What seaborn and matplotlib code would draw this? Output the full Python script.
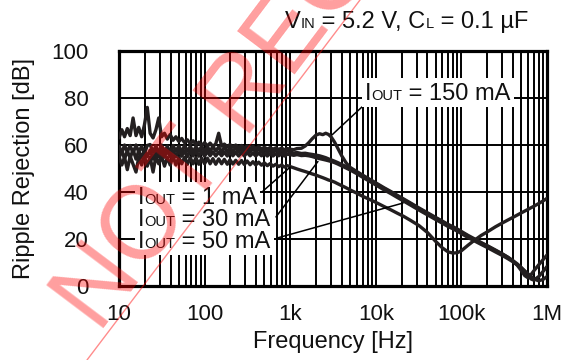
import numpy as np
import pandas as pd
import seaborn as sns
import matplotlib
matplotlib.use("Agg")
import matplotlib.pyplot as plt
from matplotlib.ticker import LogLocator, FixedLocator, FixedFormatter, NullFormatter
from matplotlib.patches import Rectangle
from matplotlib.lines import Line2D
from matplotlib.font_manager import FontProperties, findfont, get_font

W, H, DPI = 563, 360, 100

# ---------------- data ----------------
freq_hz = [10, 10.8, 11.6, 12.5, 13.5, 14.6, 15.8, 17, 18.4, 19.8,
           21.4, 23.1, 25, 27, 29.1, 31.4, 34, 36.7, 39.6, 42.8,
           46.2, 50, 54, 58.3, 63, 68, 73.4, 79.3, 85.6, 92.5,
           100, 108, 116, 125, 135, 146, 158, 170, 184, 198,
           214, 231, 250, 270, 291, 314, 340, 367, 396, 428,
           462, 500, 540, 583, 630, 680, 734, 793, 856, 925,
           1000, 1100, 1200, 1350, 1500, 1650, 1800, 2000, 2200, 2400,
           2600, 2800, 3000, 3300, 3600, 4000, 4500, 5000, 6000, 7000,
           8500, 10000, 12500, 15000, 18000, 21000, 25000, 32000, 40000, 50000,
           60000, 70000, 80000, 90000, 100000, 120000, 140000, 170000, 200000, 250000,
           300000, 350000, 400000, 450000, 500000, 550000, 600000, 650000, 700000, 800000,
           900000, 1000000]

rr_1ma = [55, 51.5, 54.8, 49.5, 55.2, 51.8, 48.5, 54.8, 51.5, 55.5,
          51, 54.8, 48.5, 55.2, 52, 55.2, 51, 54.8, 51.5, 55.2,
          51.5, 54.8, 52, 54.8, 51.8, 54.6, 52, 54.6, 51.8, 54.4,
          52, 54.4, 52, 54.2, 51.8, 54.1, 52, 53.9, 51.8, 53.7,
          51.9, 53.5, 51.8, 53.4, 51.7, 53.2, 51.6, 52.9, 51.5, 52.7,
          51.4, 52.4, 51.2, 52.1, 51, 51.8, 50.8, 51.5, 50.6, 51.2,
          50.8, 50.3, 49.8, 49.2, 48.7, 48.2, 47.7, 47.2, 46.6, 46.1,
          45.6, 45.1, 44.8, 44.2, 43.5, 42.7, 41.8, 40.9, 39.5, 38.2,
          36.8, 35.6, 33.8, 32.4, 30.9, 29.7, 28.1, 25.7, 22.8, 19,
          16.2, 14.5, 14, 14.2, 15, 17.4, 19.3, 21.5, 23, 25.2,
          26.8, 28.1, 29.2, 30.2, 31.1, 31.9, 32.6, 33.3, 33.9, 35.1,
          36.2, 37.3]

rr_30ma = [54.5, 57.8, 54, 57.5, 54.5, 58, 54, 57.5, 54.5, 58,
           55, 57.8, 54, 57.8, 55, 57.5, 54.8, 57.8, 55, 57.5,
           55, 57.6, 55.2, 57.5, 55, 57.4, 55.3, 57.5, 55.2, 57.2,
           55.2, 57.3, 55.4, 57.1, 55.3, 57, 55.4, 57, 55.3, 56.9,
           55.4, 56.9, 55.3, 56.8, 55.3, 56.8, 55.4, 56.6, 55.3, 56.6,
           55.4, 56.5, 55.3, 56.4, 55.3, 56.3, 55.4, 56.2, 55.3, 56.1,
           55.9, 55.6, 55.9, 55.5, 55.6, 55.4, 55.1, 54.6, 54.2, 53.9,
           53.6, 53.3, 53, 52.5, 51.9, 51.1, 50.2, 49.4, 47.8, 46.3,
           44.5, 43, 40.9, 39.3, 37.6, 36.2, 34.6, 32.3, 30.3, 28.3,
           26.7, 25.3, 24.3, 23.3, 22.3, 20.6, 19.3, 17.7, 16.4, 14.5,
           13, 11.6, 10.3, 9, 7.7, 6.4, 5.2, 4.1, 3, 2.2,
           2.8, 4]

rr_50ma = [59.5, 56.5, 60, 57, 59.8, 56.5, 60, 57, 59.5, 56.2,
           59.8, 60.2, 57, 59.6, 56.5, 60, 57.2, 59.5, 56.8, 59.8,
           57.3, 59.6, 57, 59.8, 57.3, 59.5, 57, 59.4, 57.3, 59.6,
           57, 59.3, 57.2, 59.5, 57.4, 59.2, 57, 59.1, 57.2, 58.9,
           57.1, 58.9, 57.1, 58.7, 57, 58.7, 57, 58.5, 56.9, 58.4,
           56.9, 58.3, 56.8, 58.1, 56.8, 57.9, 56.7, 57.8, 56.6, 57.5,
           57, 56.6, 56.8, 56.4, 56.5, 56.2, 56, 55.7, 55.4, 55,
           54.6, 54.1, 53.7, 53.1, 52.5, 51.7, 50.8, 50, 48.4, 46.9,
           45.1, 43.6, 41.5, 39.9, 38.2, 36.8, 35.2, 32.9, 30.9, 28.9,
           27.3, 25.9, 24.9, 23.9, 22.9, 21.2, 19.9, 18.3, 17, 15.1,
           13.6, 12.2, 10.8, 9.4, 7.9, 6.3, 4.6, 3, 2.5, 4,
           6.2, 8.3]

rr_150ma = [63, 66.5, 63.5, 67, 64, 71.5, 64, 67.5, 63.5, 68.5,
            76, 65, 63, 66.5, 71.5, 63.5, 65, 62.5, 64.5, 62,
            63.5, 61.5, 62.8, 61, 62.2, 60.5, 61.8, 60.2, 61.2, 59.8,
            61, 59.6, 60.8, 59.4, 60.5, 65, 59.5, 60.4, 59.2, 60.2,
            59, 60, 58.8, 59.8, 58.7, 59.6, 58.6, 59.4, 58.5, 59.2,
            58.4, 59, 58.3, 58.9, 58.2, 58.8, 58.1, 58.7, 58, 58.5,
            58.2, 58, 58.5, 58.6, 59.6, 61, 62.6, 64.2, 64.8, 64.4,
            65, 64.5, 63.5, 61.2, 58.6, 55.4, 52.4, 50.5, 48.7, 47.2,
            45.4, 43.9, 41.8, 40.2, 38.5, 37.1, 35.5, 33.2, 31.2, 29.2,
            27.6, 26.2, 25.2, 24.2, 23.2, 21.5, 20.2, 18.5, 17.2, 15.3,
            13.7, 12.2, 10.6, 8.8, 6.6, 4.4, 3.5, 4.8, 6.4, 9,
            11.2, 13.2]

series = {"1 mA": rr_1ma, "30 mA": rr_30ma, "50 mA": rr_50ma, "150 mA": rr_150ma}

x_ticks = [10, 100, 1e3, 1e4, 1e5, 1e6]
x_ticklabels = ["10", "100", "1k", "10k", "100k", "1M"]
y_ticks = [0, 20, 40, 60, 80, 100]

# leader lines (Hz, dB): start -> end
leader_1ma = ([481, 1000], [40.4, 50.6])
leader_30ma = ([682, 2110], [29.4, 53.0])
leader_50ma = ([701, 20800], [20.4, 35.3])
leader_150ma = ([6900, 3080], [76.2, 64.3])

LINE = "#231f20"
TXT = "#111111"

# ---------------- style ----------------
sns.set_theme(style="white")
plt.rcParams["font.family"] = ["Liberation Sans", "DejaVu Sans"]

fig = plt.figure(figsize=(W / DPI, H / DPI), dpi=DPI)
L, R, T, B = 119, 547, 51, 286
ax = fig.add_axes([L / W, 1 - B / H, (R - L) / W, (B - T) / H])

df = pd.concat([pd.DataFrame({"f": freq_hz, "rr": v, "iout": k}) for k, v in series.items()])
for k in series:
    sub = df[df["iout"] == k]
    sns.lineplot(data=sub, x="f", y="rr", ax=ax, color=LINE, lw=2.4,
                 estimator=None, sort=False, legend=False, zorder=3)

ax.set_xscale("log")
ax.set_xlim(10, 1e6)
ax.set_ylim(0, 100)
ax.xaxis.set_major_locator(FixedLocator(x_ticks))
ax.xaxis.set_major_formatter(FixedFormatter(x_ticklabels))
ax.xaxis.set_minor_locator(LogLocator(base=10, subs=np.arange(2, 10)))
ax.xaxis.set_minor_formatter(NullFormatter())
ax.yaxis.set_major_locator(FixedLocator(y_ticks))
ax.set_axisbelow(True)
ax.grid(which="major", axis="both", color="black", lw=1.4)
ax.grid(which="minor", axis="x", color="black", lw=1.4)
ax.tick_params(which="both", length=0)
ax.tick_params(axis="x", pad=13, labelsize=16, labelcolor=TXT)
ax.tick_params(axis="y", pad=22, labelsize=16, labelcolor=TXT)
for s in ax.spines.values():
    s.set_color("black")
    s.set_linewidth(2.3)

ax.set_xlabel("Frequency [Hz]", fontsize=17, color=TXT)
ax.set_ylabel("Ripple Rejection [dB]", fontsize=17, color=TXT)
ax.xaxis.set_label_coords(0.5, -(331 - B) / (B - T))
ax.yaxis.set_label_coords((35 - L) / (R - L), 0.5)

for lx, ly in (leader_1ma, leader_30ma, leader_50ma, leader_150ma):
    ax.plot(lx, ly, color="black", lw=1.1, zorder=4)

# ---------------- rich text helpers ----------------
FONT_FILE = findfont(FontProperties(family="Liberation Sans"))
try:
    from matplotlib.ft2font import Kerning
    KMODE = Kerning.DEFAULT
except Exception:
    try:
        from matplotlib.ft2font import KERNING_DEFAULT as KMODE
    except Exception:
        KMODE = 0


def advance(s, size):
    ft = get_font(FONT_FILE)
    ft.set_size(size, DPI)
    total, prev = 0.0, None
    for c in s:
        gi = ft.get_char_index(ord(c))
        if prev is not None:
            try:
                total += ft.get_kerning(prev, gi, KMODE) / 64.0
            except Exception:
                pass
        total += ft.load_char(ord(c)).linearHoriAdvance / 65536.0
        prev = gi
    return total


def fpos(x, y):
    return x / W, 1 - y / H


def rich(x, y, pieces, box=False):
    x0 = x
    for s, size in pieces:
        fx, fy = fpos(x, y)
        fig.text(fx, fy, s, fontsize=size, ha="left", va="baseline", color=TXT, zorder=6)
        x += advance(s, size)
    if box:
        big = pieces[0][1] * DPI / 72
        top = y - 0.95 * big
        bot = y + 0.3 * big
        fx, fy = fpos(x0 - 3, bot)
        fig.add_artist(Rectangle((fx, fy), (x - x0 + 6) / W, (bot - top) / H,
                                 transform=fig.transFigure, facecolor="white",
                                 edgecolor="none", zorder=5))
    return x


BIG, SMALL = 17, 10.5
rich(285, 28, [("V", BIG), ("IN", SMALL), (" = 5.2 V, C", BIG), ("L", SMALL), (" = 0.1 µF", BIG)])
rich(138, 204, [("I", BIG), ("OUT", SMALL), (" = 1 mA", BIG)], box=True)
rich(138, 226, [("I", BIG), ("OUT", SMALL), (" = 30 mA", BIG)], box=True)
rich(138, 248, [("I", BIG), ("OUT", SMALL), (" = 50 mA", BIG)], box=True)
rich(365, 100, [("I", BIG), ("OUT", SMALL), (" = 150 mA", BIG)], box=True)

# ---------------- watermark ----------------
wx, wy = fpos(99, 334)
fig.text(wx, wy, "NOT RECOMMENDED", fontsize=74, rotation=53,
         rotation_mode="anchor", ha="left", va="baseline", color="red", alpha=0.38, zorder=10)
p0, p1 = fpos(87, 360), fpos(360, 0)
fig.add_artist(Line2D([p0[0], p1[0]], [p0[1], p1[1]], transform=fig.transFigure,
                      color="red", alpha=0.45, lw=1.0, zorder=10))

fig.savefig("out.png", dpi=DPI)
